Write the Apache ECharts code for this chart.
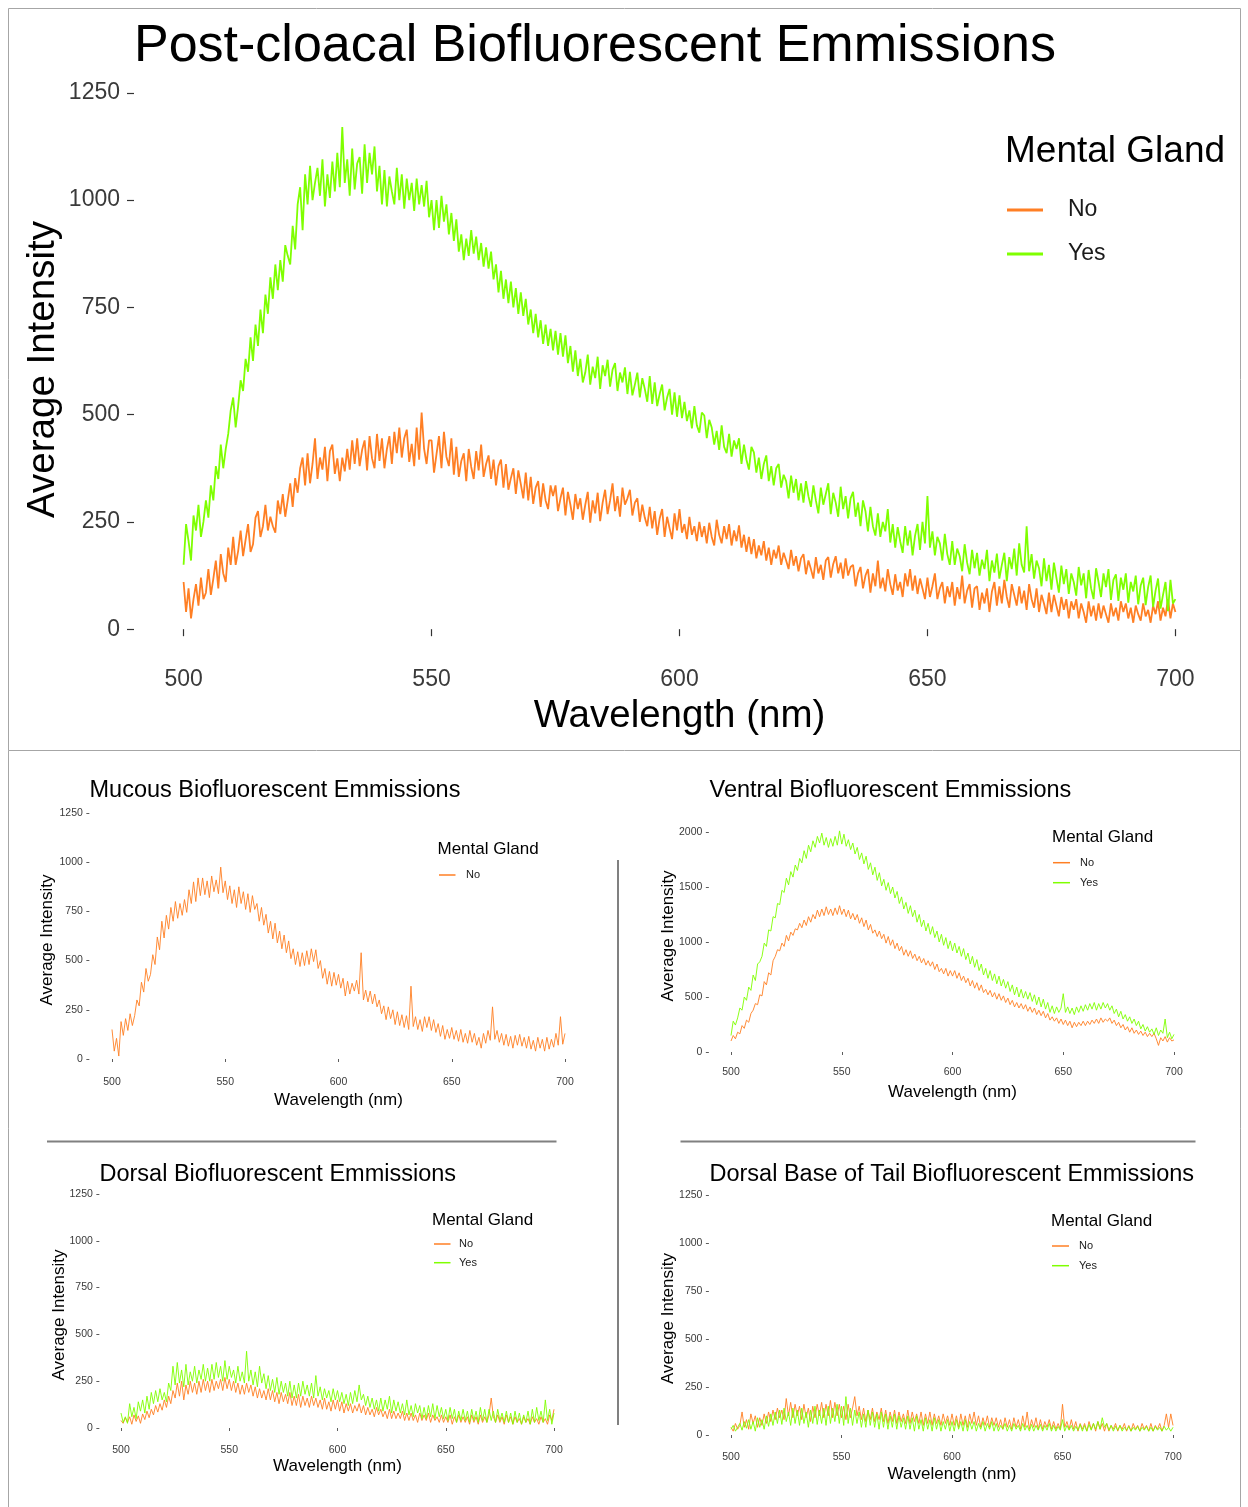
<!DOCTYPE html>
<html><head><meta charset="utf-8">
<script src="https://cdn.jsdelivr.net/npm/echarts@6/dist/echarts.min.js"></script>
<style>html,body{margin:0;padding:0;background:#fff}#c{width:1248px;height:1507px}</style>
</head><body><div id="c"></div><script>
// ---------- DATA ----------
const WL_START = 500;          // first wavelength of every spectrum (nm)
const MAIN_STEP = 0.5;         // sampling step of the post-cloacal spectra (nm)
const SUB_STEP = 1;            // sampling step of the four small spectra (nm)
const xTickValues = [500, 550, 600, 650, 700];
const yTicks1250 = [0, 250, 500, 750, 1000, 1250];
const yTicks2000 = [0, 500, 1000, 1500, 2000];
const groupNames = ['No', 'Yes'];

// Post-cloacal, Mental Gland = No
const postNo = [
110,40,95,25,70,105,55,120,70,85,
140,80,118,160,95,175,130,110,190,150,
215,150,182,230,170,208,245,180,198,260,
275,215,240,290,230,262,240,225,300,268,
315,262,300,340,285,352,318,375,400,335,
410,340,385,445,350,400,372,425,345,415,
430,362,398,345,400,368,420,372,440,385,
445,380,418,440,370,450,398,375,455,392,
445,375,420,450,385,460,410,470,400,445,
465,390,432,380,470,395,505,420,385,440,
440,365,408,450,375,460,402,380,445,360,
425,355,392,410,345,420,378,350,415,370,
430,355,385,405,350,395,335,380,395,330,
385,325,352,375,315,370,338,305,365,300,
355,292,330,345,285,340,300,280,335,310,
335,275,305,330,265,320,290,255,315,280,
305,255,290,320,248,300,270,318,252,295,
325,268,300,340,275,310,262,330,290,305,
325,265,295,305,250,290,260,240,285,235,
275,220,258,280,215,262,235,210,270,230,
280,225,245,210,262,220,240,205,250,215,
240,200,248,215,195,255,220,200,240,210,
245,195,230,205,242,190,220,180,215,175,
210,165,195,172,205,160,190,150,185,165,
195,150,178,160,140,185,148,170,135,165,
175,128,160,140,118,168,130,150,115,160,
168,120,152,170,130,155,118,165,125,145,
150,100,130,145,95,125,140,85,130,100,
160,95,120,88,140,105,80,128,90,110,
75,130,100,140,90,125,82,118,95,70,
120,75,100,130,70,95,110,60,100,75,
110,55,98,70,125,60,90,105,50,95,
100,45,85,60,95,40,88,110,55,100,
60,115,75,50,105,80,55,100,60,90,
45,105,70,50,95,40,80,60,35,85,
40,80,55,30,75,45,70,25,65,45,
70,25,60,40,15,65,30,55,20,60,
25,55,35,15,60,30,50,20,65,40,
60,25,50,15,55,35,20,60,30,45,
15,55,35,65,20,50,30,70,25,60,
40];
// Post-cloacal, Mental Gland = Yes
const postYes = [
150,245,205,160,265,230,290,215,250,300,
260,335,300,380,350,430,375,420,455,510,
540,470,520,580,555,630,600,680,625,710,
660,745,690,780,735,820,770,850,790,860,
810,895,870,850,940,885,990,1030,930,1060,
990,1080,1000,1040,1075,1010,1095,985,1060,1005,
1090,1020,1110,1030,1170,1040,1095,1010,1120,1025,
1085,1100,1015,1130,1040,1110,1060,1125,1020,1080,
990,1070,985,1055,1020,990,1075,1000,1060,980,
1050,1000,1040,975,1050,990,1035,985,1045,960,
1000,930,1000,935,1010,950,990,920,970,905,
955,880,920,860,910,870,930,875,915,860,
900,845,890,840,880,815,850,785,835,770,
815,760,810,750,795,735,785,730,770,710,
745,690,735,680,720,665,710,660,700,650,
695,640,690,635,685,620,660,600,650,590,
630,575,598,640,570,612,585,635,560,615,
590,628,565,605,620,555,598,575,610,548,
600,545,570,598,540,585,560,530,590,525,
575,520,548,570,510,540,560,500,552,495,
545,492,530,485,510,468,520,475,458,505,
498,445,488,470,430,462,418,475,425,410,
455,402,440,420,445,385,430,395,372,425,
412,365,400,350,385,405,345,380,335,375,
385,330,360,345,305,358,318,350,300,340,
295,345,310,285,335,300,270,330,290,315,
340,268,318,295,262,332,280,310,258,305,
320,262,295,240,300,275,228,285,240,218,
270,215,250,228,280,202,245,190,238,205,
178,240,195,230,172,218,245,185,250,200,
310,190,228,172,215,200,160,222,175,150,
205,150,188,170,135,198,155,128,185,142,
178,125,162,140,185,112,160,132,176,118,
150,178,112,168,140,188,125,200,150,132,
240,135,175,118,160,142,100,165,112,150,
92,155,120,85,148,105,140,82,130,110,
78,145,102,130,72,138,95,70,142,110,
75,130,98,140,68,115,128,66,120,92,
130,62,110,88,125,58,102,120,56,98,
125,52,90,118,48,80,110,42,115,60,
70];
// Mucous, No
const mucousNo = [
150,40,105,15,190,120,205,145,230,170,
220,300,270,390,340,460,395,430,530,480,
620,555,700,615,730,660,770,700,800,715,
790,730,810,745,860,790,900,800,920,830,
920,835,905,820,930,850,910,840,975,845,
905,810,880,790,860,770,875,790,850,760,
840,745,830,760,790,700,770,680,735,640,
700,610,690,590,650,560,630,540,600,510,
560,480,545,470,540,475,550,480,560,495,
555,460,500,410,460,380,445,370,440,375,
430,360,410,320,395,330,385,345,400,330,
540,300,350,290,345,280,330,265,300,230,
270,200,265,205,250,175,240,170,225,160,
220,150,370,165,215,150,200,140,215,160,
215,145,200,135,180,115,170,100,150,105,
160,100,145,90,150,85,130,80,145,85,
130,70,110,55,130,80,145,95,265,100,
145,85,130,70,125,65,115,55,120,70,
125,65,110,55,115,50,95,40,110,55,
100,40,110,50,100,60,130,70,215,75,
130];
// Ventral
const ventralNo = [
100,150,120,180,165,240,215,290,270,350,
380,440,430,520,510,640,610,720,700,830,
870,930,920,990,960,1060,1010,1090,1060,1120,
1110,1170,1130,1200,1150,1230,1180,1250,1210,1290,
1230,1300,1240,1320,1250,1300,1240,1310,1250,1330,
1250,1300,1230,1290,1210,1260,1200,1250,1170,1220,
1140,1200,1110,1160,1080,1110,1050,1100,1030,1070,
990,1050,970,1020,940,990,920,960,880,930,
870,920,850,890,830,870,810,850,790,830,
780,820,750,800,730,760,710,760,690,740,
690,740,670,720,650,690,630,670,600,650,
580,630,560,610,540,570,520,560,500,540,
480,530,470,510,450,490,430,470,410,450,
400,440,390,430,370,410,360,400,340,380,
330,370,310,350,290,320,280,310,260,300,
250,290,240,280,220,270,230,270,240,280,
240,280,250,290,260,300,260,310,270,300,
280,310,260,290,240,270,220,250,200,230,
180,220,170,200,160,190,150,180,140,170,
140,170,120,60,130,100,140,90,130,100,
110];
const ventralYes = [
150,280,245,310,400,380,500,470,590,560,
700,650,800,820,870,990,960,1110,1100,1230,
1220,1350,1340,1470,1450,1580,1520,1640,1590,1700,
1650,1760,1720,1830,1760,1880,1820,1920,1860,1960,
1900,1990,1880,1950,1860,1940,1870,1960,1880,2010,
1890,1980,1870,1930,1840,1900,1800,1860,1750,1810,
1710,1780,1660,1720,1610,1680,1560,1630,1510,1570,
1470,1540,1440,1500,1400,1460,1350,1410,1300,1360,
1260,1330,1230,1290,1180,1250,1140,1200,1100,1170,
1070,1140,1040,1100,1000,1070,970,1040,940,1010,
920,990,900,960,870,940,840,900,800,870,
770,840,740,800,700,760,670,740,650,710,
620,690,600,660,580,640,550,610,520,590,
500,570,490,550,480,540,460,520,430,500,
410,480,390,450,360,420,350,410,360,400,
530,360,410,350,400,340,410,360,420,370,
430,380,440,390,450,380,440,390,450,400,
440,380,420,350,390,320,370,300,340,280,
320,260,300,240,280,210,250,190,230,180,
210,160,220,150,200,170,300,130,180,120,
160];
// Dorsal
const dorsalNo = [
40,25,55,30,60,20,70,35,65,25,
75,45,90,55,100,70,120,85,130,95,
150,110,170,130,200,160,240,170,250,150,
230,180,250,190,240,180,250,190,260,200,
250,190,260,200,250,210,260,200,270,210,
260,200,250,190,240,180,230,180,240,190,
230,170,220,160,210,160,200,150,210,150,
200,140,190,130,190,140,180,130,190,120,
170,120,180,110,170,120,160,110,170,120,
160,110,150,100,160,100,140,90,150,100,
150,90,140,80,130,90,130,80,120,90,
130,80,120,70,110,70,100,60,110,70,
100,60,90,50,100,50,90,50,80,50,
90,40,80,40,80,40,70,30,80,40,
70,40,80,30,70,40,60,30,70,30,
60,30,70,20,60,30,70,30,60,30,
60,20,70,30,60,20,70,30,60,30,
70,160,60,30,70,30,60,20,70,30,
60,20,60,30,50,20,60,30,50,20,
60,30,50,20,60,30,50,20,70,40,
100];
const dorsalYes = [
80,30,60,25,130,60,110,50,140,90,
150,80,170,100,190,130,200,140,210,150,
190,140,240,200,330,230,350,240,310,220,
340,230,300,250,330,240,310,260,340,250,
320,250,340,260,350,270,330,250,360,260,
330,270,310,240,330,250,300,240,410,250,
310,230,300,220,330,240,290,210,280,200,
260,190,270,180,250,190,240,170,250,160,
230,160,240,170,250,180,230,170,240,160,
280,170,220,150,210,160,200,140,210,150,
200,140,190,130,180,120,190,130,200,140,
230,150,180,120,170,110,160,100,150,90,
160,90,150,100,170,80,150,90,140,80,
130,70,150,70,120,60,130,80,120,50,
110,50,120,60,130,50,120,60,110,50,
100,40,110,50,100,30,90,40,100,40,
90,30,100,40,90,30,110,40,100,30,
100,40,90,30,100,40,80,30,90,30,
80,20,90,30,80,20,70,30,90,20,
100,30,110,40,90,30,150,40,100,20,
80];
// Dorsal base of tail
const tailNo = [
40,20,60,30,50,120,40,80,30,110,
60,100,40,90,50,110,60,120,70,130,
80,140,90,130,80,190,100,170,90,160,
100,150,80,160,90,140,70,150,90,160,
100,170,90,160,100,180,90,170,100,160,
90,150,80,160,90,140,200,100,150,80,
140,70,130,80,140,70,120,80,140,70,
130,60,120,70,130,60,120,70,110,60,
130,60,120,70,110,60,120,50,110,60,
120,50,110,60,100,50,110,60,100,50,
110,50,100,40,110,50,100,40,110,60,
120,50,100,40,90,50,100,40,90,50,
90,40,80,30,90,40,80,30,90,40,
80,30,100,40,120,30,80,40,90,30,
80,30,70,40,80,30,70,30,60,30,
160,40,70,30,80,30,70,20,60,30,
60,20,70,30,60,20,70,30,60,20,
60,20,50,30,60,20,50,30,60,20,
50,20,60,30,50,20,60,30,50,20,
60,20,50,30,60,20,50,110,40,110,
50];
const tailYes = [
30,50,20,40,60,25,70,35,80,30,
70,20,90,40,80,30,100,45,110,50,
120,60,130,55,140,70,120,50,140,60,
130,50,140,60,120,40,130,60,150,55,
130,60,140,50,150,60,140,70,160,60,
150,50,200,60,140,50,130,60,120,40,
110,40,130,50,120,40,110,30,120,40,
110,30,100,40,110,30,100,40,90,30,
100,30,90,20,100,30,80,20,90,30,
80,20,90,30,80,20,70,30,80,20,
70,20,80,30,70,20,80,20,70,30,
70,20,60,30,70,20,60,30,70,20,
60,20,50,30,60,20,50,20,60,30,
50,20,60,25,50,20,55,20,50,25,
55,20,50,25,60,20,50,20,45,25,
80,20,50,25,50,20,45,25,55,20,
50,20,55,25,60,30,70,30,90,40,
60,25,50,20,45,25,50,20,40,25,
45,20,40,25,45,20,40,25,45,20,
40,20,45,25,40,20,45,25,40,20,
40];

// ---------- CHART ----------
const FONT = "'Liberation Sans', Arial, Helvetica, sans-serif";
const ORANGE = '#FF7F24', GREEN = '#7FFF00';
const toPairs = (vals, step) => vals.map((v, i) => [WL_START + i * step, v]);
const plainNum = v => String(v);

const panels = [
  { title: 'Post-cloacal Biofluorescent Emmissions', big: true,
    grid: { left: 134, top: 66, width: 1091, height: 590 },
    ymin: -62.5, ymax: 1312.5, yTicks: yTicks1250,
    xGap: 41, yGap: 71, yPad: [0, 17, 0, 0],
    titlePos: { left: 134, top: 21 },
    legTitle: { left: 1005, top: 133 },
    legend: { left: 1007, top: 198.5, gap: 21 },
    series: [['No', postNo, MAIN_STEP], ['Yes', postYes, MAIN_STEP]] },
  { title: 'Mucous Biofluorescent Emmissions',
    grid: { left: 89.35, top: 800.7, width: 498.3, height: 270.6 },
    ymin: -62.5, ymax: 1312.5, yTicks: yTicks1250,
    xGap: 20.5, yGap: 33.5, yPad: [0, 8, 0, 0],
    titlePos: { left: 89.5, top: 779 },
    legTitle: { left: 437.5, top: 840.5 },
    legend: { left: 439, top: 869.5, gap: 9, w: 16.5, pad: 5.5 },
    series: [['No', mucousNo, SUB_STEP]] },
  { title: 'Ventral Biofluorescent Emmissions',
    grid: { left: 708.85, top: 819.9, width: 487.3, height: 242 },
    ymin: -90, ymax: 2110, yTicks: yTicks2000,
    xGap: 21.5, yGap: 32, yPad: [0, 0, 0, 10],
    titlePos: { left: 709.5, top: 779 },
    legTitle: { left: 1052, top: 829.2 },
    legend: { left: 1053, top: 857.2, gap: 9, w: 17, pad: 5 },
    series: [['No', ventralNo, SUB_STEP], ['Yes', ventralYes, SUB_STEP]] },
  { title: 'Dorsal Biofluorescent Emmissions',
    grid: { left: 99.35, top: 1182.3, width: 476.3, height: 257.4 },
    ymin: -62.5, ymax: 1312.5, yTicks: yTicks1250,
    xGap: 18.5, yGap: 32, yPad: [0, 8, 0, 0],
    titlePos: { left: 99.5, top: 1162.5 },
    legTitle: { left: 432, top: 1211.5 },
    legend: { left: 434, top: 1238.5, gap: 7.7, w: 16.5, pad: 3.5 },
    series: [['No', dorsalNo, SUB_STEP], ['Yes', dorsalYes, SUB_STEP]] },
  { title: 'Dorsal Base of Tail Biofluorescent Emmissions',
    grid: { left: 708.9, top: 1183, width: 486.2, height: 264 },
    ymin: -62.5, ymax: 1312.5, yTicks: yTicks1250,
    xGap: 18.5, yGap: 32, yPad: [0, 7, 0, 0],
    titlePos: { left: 709.5, top: 1162.5 },
    legTitle: { left: 1051, top: 1212.9 },
    legend: { left: 1052, top: 1240.5, gap: 8.7, w: 17, pad: 5 },
    series: [['No', tailNo, SUB_STEP], ['Yes', tailYes, SUB_STEP]] }
];

const option = { animation: false, backgroundColor: '#fff',
  title: [], legend: [], grid: [], xAxis: [], yAxis: [], series: [], graphic: [] };

panels.forEach((p, i) => {
  const big = !!p.big;
  const tickLen = big ? 7 : 3;
  const labFs = big ? 23 : 10.5;
  const nameFs = big ? 38.5 : 17;
  option.grid.push(Object.assign({ outerBoundsMode: 'none', containLabel: false }, p.grid));
  option.title.push({ text: p.title, left: p.titlePos.left, top: p.titlePos.top, padding: 0,
    textStyle: { fontFamily: FONT, fontWeight: 'normal', color: '#000', fontSize: big ? 52 : 23.5 } });
  option.title.push({ text: 'Mental Gland', left: p.legTitle.left, top: p.legTitle.top, padding: 0,
    textStyle: { fontFamily: FONT, fontWeight: 'normal', color: '#000', fontSize: big ? 37 : 17 } });
  const lg = p.legend;
  option.legend.push({ data: p.series.map(s => s[0]), orient: 'vertical', left: lg.left, top: lg.top,
    padding: 0, itemGap: lg.gap, itemWidth: big ? 36 : lg.w, itemHeight: big ? 3 : 1.5, icon: 'rect',
    selectedMode: false,
    textStyle: { fontFamily: FONT, fontSize: big ? 23 : 11, color: '#1a1a1a',
      padding: [0, 0, 0, big ? 20 : lg.pad] } });
  option.xAxis.push({ type: 'value', gridIndex: i, min: 490, max: 710,
    name: 'Wavelength (nm)', nameLocation: 'middle', nameGap: p.xGap, nameMoveOverlap: false,
    nameTextStyle: { fontFamily: FONT, fontSize: nameFs, color: '#000' },
    axisLine: { show: false }, splitLine: { show: false },
    axisTick: { show: true, customValues: xTickValues, length: tickLen, lineStyle: { color: '#333', width: big ? 1.2 : 0.8 } },
    axisLabel: { customValues: xTickValues, formatter: plainNum, margin: big ? 12 : 5, fontFamily: FONT, fontSize: labFs, color: '#3a3a3a' } });
  option.yAxis.push({ type: 'value', gridIndex: i, min: p.ymin, max: p.ymax,
    name: 'Average Intensity', nameLocation: 'middle', nameGap: p.yGap, nameRotate: 90, nameMoveOverlap: false,
    nameTextStyle: { fontFamily: FONT, fontSize: nameFs, color: '#000', padding: p.yPad },
    axisLine: { show: false }, splitLine: { show: false },
    axisTick: { show: true, customValues: p.yTicks, length: tickLen, lineStyle: { color: '#333', width: big ? 1.2 : 0.8 } },
    axisLabel: { customValues: p.yTicks, formatter: plainNum, margin: big ? 14 : 6.5, fontFamily: FONT, fontSize: labFs, color: '#3a3a3a' } });
  p.series.forEach(s => {
    option.series.push({ type: 'line', name: s[0], xAxisIndex: i, yAxisIndex: i,
      data: toPairs(s[1], s[2]), showSymbol: false, symbol: 'none', clip: true,
      color: s[0] === 'No' ? ORANGE : GREEN,
      lineStyle: { width: big ? 1.8 : 1, color: s[0] === 'No' ? ORANGE : GREEN, opacity: big ? 1 : 0.9 } });
  });
});

option.graphic = [
  { type: 'rect', shape: { x: 8.5, y: 8.5, width: 1232, height: 742 }, style: { fill: 'none', stroke: '#a6a6a6', lineWidth: 1 }, silent: true },
  { type: 'line', shape: { x1: 8.5, y1: 750.5, x2: 8.5, y2: 1507 }, style: { stroke: '#a6a6a6', lineWidth: 1 }, silent: true },
  { type: 'line', shape: { x1: 1240.5, y1: 750.5, x2: 1240.5, y2: 1507 }, style: { stroke: '#a6a6a6', lineWidth: 1 }, silent: true },
  { type: 'line', shape: { x1: 47, y1: 1141.5, x2: 556.5, y2: 1141.5 }, style: { stroke: '#808080', lineWidth: 2 }, silent: true },
  { type: 'line', shape: { x1: 680.5, y1: 1141.5, x2: 1195.5, y2: 1141.5 }, style: { stroke: '#808080', lineWidth: 2 }, silent: true },
  { type: 'line', shape: { x1: 618, y1: 860, x2: 618, y2: 1425 }, style: { stroke: '#808080', lineWidth: 2 }, silent: true }
];

const chart = echarts.init(document.getElementById('c'), null, { renderer: 'canvas', width: 1248, height: 1507 });
chart.setOption(option);
</script></body></html>
